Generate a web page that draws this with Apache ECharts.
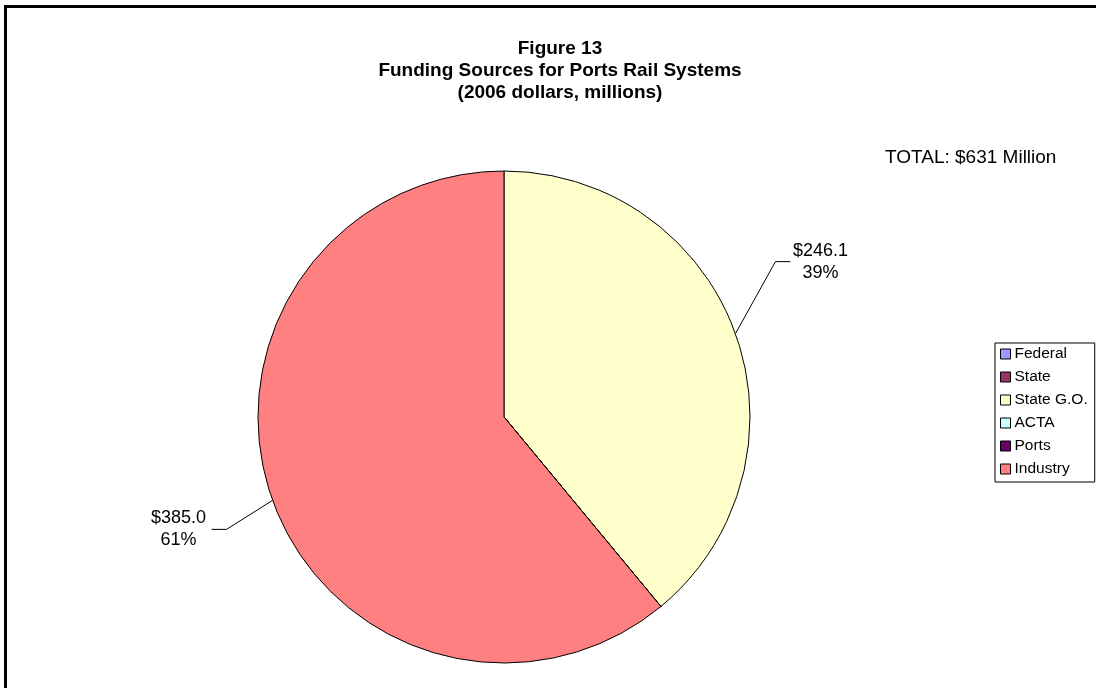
<!DOCTYPE html>
<html>
<head>
<meta charset="utf-8">
<script src="https://cdn.jsdelivr.net/npm/echarts@6/dist/echarts.min.js"></script>
<style>
  html, body { margin: 0; padding: 0; background: #fff; }
  #chart { width: 1096px; height: 688px; }
</style>
</head>
<body>
<div id="chart"></div>
<script>
// ---- data ----
const categories = ['Federal', 'State', 'State G.O.', 'ACTA', 'Ports', 'Industry'];
const values = [0, 0, 246.1, 0, 0, 385.0];
const colors = ['#9999FF', '#993366', '#FFFFCC', '#CCFFFF', '#660066', '#FF8080'];
const titleLines = ['Figure 13', 'Funding Sources for Ports Rail Systems', '(2006 dollars, millions)'];
const totalLabel = 'TOTAL: $631 Million';

// ---- style ----
const FONT = '"Liberation Sans", Arial, Helvetica, sans-serif';
// leader-line offsets (elbow dx, dy, horizontal length, label center offset) for right / left side
const LEADER_RIGHT = { dx: 40, dy: -72, h: 15, lx: 30 };
const LEADER_LEFT = { dx: -46, dy: 29, h: 15, lx: 33 };

const chart = echarts.init(document.getElementById('chart'), null, { renderer: 'canvas' });

const data = categories.map((name, i) => {
  const item = { name: name, value: values[i], itemStyle: { color: colors[i] } };
  if (!values[i]) {
    item.label = { show: false };
    item.labelLine = { show: false };
  }
  return item;
});

const option = {
  animation: false,
  backgroundColor: '#fff',
  title: [
    {
      text: titleLines.join('\n'),
      left: 555,
      top: 33,
      textAlign: 'center',
      textStyle: { fontFamily: FONT, fontSize: 19, fontWeight: 'bold', color: '#000', lineHeight: 22 }
    },
    {
      text: totalLabel,
      left: 880,
      top: 143,
      textStyle: { fontFamily: FONT, fontSize: 19, fontWeight: 'normal', color: '#000' }
    }
  ],
  legend: {
    orient: 'vertical',
    left: 995,
    top: 343,
    padding: [3, 7, 5, 5],
    itemWidth: 10,
    itemHeight: 10,
    itemGap: 7,
    icon: 'rect',
    borderColor: '#000',
    borderWidth: 1,
    selectedMode: false,
    itemStyle: { borderColor: '#000', borderWidth: 1 },
    textStyle: { fontFamily: FONT, fontSize: 15.5, color: '#000', padding: [0, 0, 0, -1] },
    data: categories
  },
  graphic: [
    {
      type: 'rect',
      shape: { x: 5.5, y: 6.5, width: 1200, height: 800 },
      style: { fill: 'none', stroke: '#000', lineWidth: 3 },
      silent: true
    }
  ],
  series: [
    {
      type: 'pie',
      center: [504, 417],
      radius: 246,
      startAngle: 90,
      clockwise: true,
      minShowLabelAngle: 0.5,
      avoidLabelOverlap: false,
      itemStyle: { borderColor: '#000', borderWidth: 1 },
      emphasis: { disabled: true },
      label: {
        show: true,
        position: 'outside',
        fontFamily: FONT,
        fontSize: 18,
        lineHeight: 22,
        color: '#000',
        align: 'center',
        formatter: function (p) {
          return '$' + p.value.toFixed(1) + '\n' + Math.round(p.percent) + '%';
        }
      },
      labelLine: {
        show: true,
        length: 30,
        length2: 15,
        lineStyle: { color: '#000', width: 1 }
      },
      labelLayout: function (params) {
        const pts = params.labelLinePoints;
        if (!pts || !pts.length) return {};
        const a = pts[0];
        const isLeft = pts[pts.length - 1][0] < a[0];
        const L = isLeft ? LEADER_LEFT : LEADER_RIGHT;
        const elbow = [a[0] + L.dx, a[1] + L.dy];
        const sign = isLeft ? -1 : 1;
        const end = [elbow[0] + sign * L.h, elbow[1]];
        return {
          x: end[0] + sign * L.lx,
          y: end[1],
          align: 'center',
          verticalAlign: 'middle',
          labelLinePoints: [a, elbow, end]
        };
      },
      data: data
    }
  ]
};

chart.setOption(option);
</script>
</body>
</html>
